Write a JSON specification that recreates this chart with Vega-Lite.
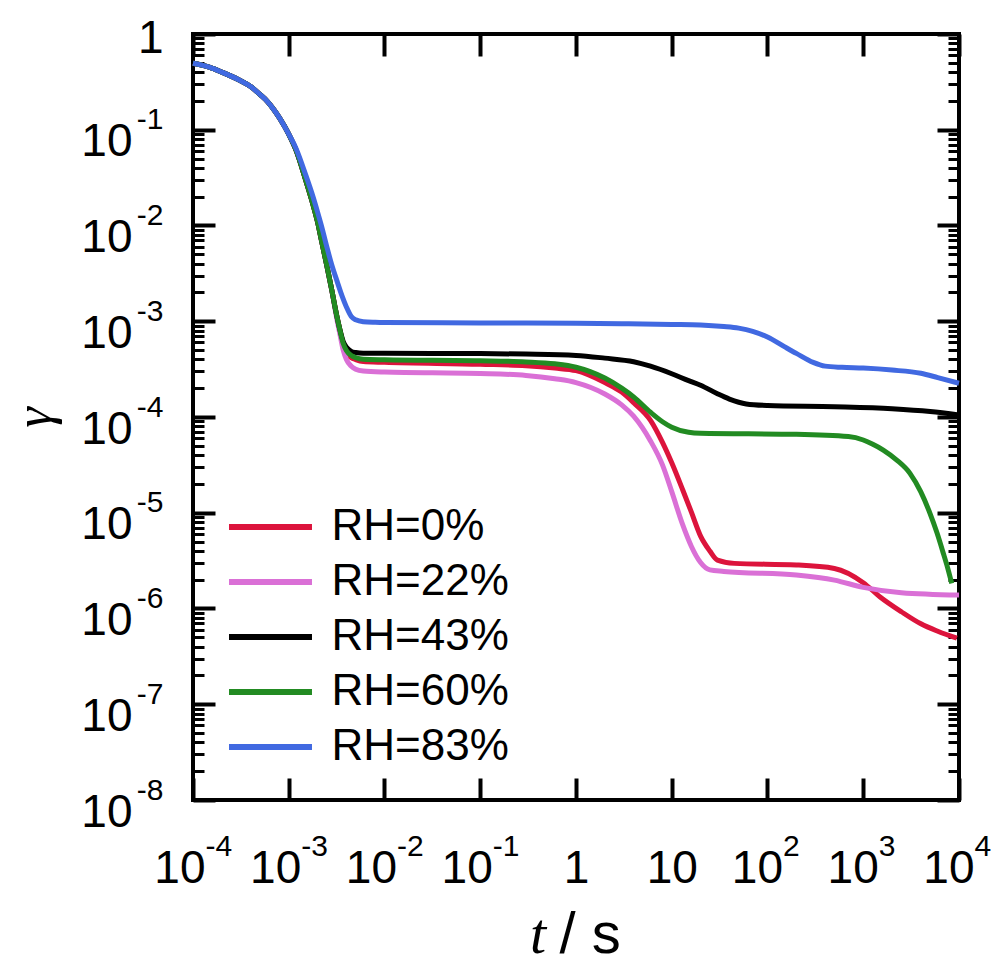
{
 "$schema": "https://vega.github.io/schema/vega-lite/v6.json",
 "width": 766, "height": 766,
 "autosize": {"type": "none"},
 "padding": {"left": 193, "top": 34, "right": 38, "bottom": 165},
 "background": "white",
 "config": {
  "view": {"stroke": "black", "strokeWidth": 4},
  "axis": {"grid": false, "domain": false, "labelFont": "Liberation Sans", "labelColor": "black", "tickColor": "black", "labelFlush": false, "labelOverlap": false, "labelBound": false, "titleColor": "black"}
 },
 "data": {"values": [
  {"rh":"RH=0%","t":0.0001,"gamma":0.494},{"rh":"RH=0%","t":0.00015,"gamma":0.448},{"rh":"RH=0%","t":0.0002,"gamma":0.4},{"rh":"RH=0%","t":0.0003,"gamma":0.333},{"rh":"RH=0%","t":0.0004,"gamma":0.283},{"rh":"RH=0%","t":0.0005,"gamma":0.234},{"rh":"RH=0%","t":0.0006,"gamma":0.197},{"rh":"RH=0%","t":0.0007,"gamma":0.162},{"rh":"RH=0%","t":0.0008,"gamma":0.133},{"rh":"RH=0%","t":0.001,"gamma":0.09},
  {"rh":"RH=0%","t":0.0012,"gamma":0.0603},{"rh":"RH=0%","t":0.0015,"gamma":0.03},{"rh":"RH=0%","t":0.0018,"gamma":0.01626},{"rh":"RH=0%","t":0.002,"gamma":0.01089},{"rh":"RH=0%","t":0.0022,"gamma":0.00692},{"rh":"RH=0%","t":0.0025,"gamma":0.0038},{"rh":"RH=0%","t":0.0028,"gamma":0.00217},
  {"rh":"RH=0%","t":0.0032,"gamma":0.001096},{"rh":"RH=0%","t":0.0034,"gamma":0.000832},{"rh":"RH=0%","t":0.0037,"gamma":0.000582},{"rh":"RH=0%","t":0.004,"gamma":0.000468},{"rh":"RH=0%","t":0.0045,"gamma":0.000417},{"rh":"RH=0%","t":0.005,"gamma":0.000398},{"rh":"RH=0%","t":0.006,"gamma":0.000379},{"rh":"RH=0%","t":0.01,"gamma":0.000372},{"rh":"RH=0%","t":0.1,"gamma":0.000355},{"rh":"RH=0%","t":0.3,"gamma":0.000343},{"rh":"RH=0%","t":0.6,"gamma":0.000324},{"rh":"RH=0%","t":1,"gamma":0.000305},{"rh":"RH=0%","t":2,"gamma":0.000229},{"rh":"RH=0%","t":3,"gamma":0.000182},{"rh":"RH=0%","t":4,"gamma":0.000141},{"rh":"RH=0%","t":6,"gamma":0.0000923},{"rh":"RH=0%","t":8,"gamma":0.0000544},{"rh":"RH=0%","t":10,"gamma":0.0000333},{"rh":"RH=0%","t":13,"gamma":0.0000174},{"rh":"RH=0%","t":16,"gamma":0.0000102},{"rh":"RH=0%","t":20,"gamma":0.0000057},{"rh":"RH=0%","t":25,"gamma":0.00000398},{"rh":"RH=0%","t":30,"gamma":0.0000032},{"rh":"RH=0%","t":45,"gamma":0.00000296},{"rh":"RH=0%","t":200,"gamma":0.00000285},{"rh":"RH=0%","t":500,"gamma":0.00000262},{"rh":"RH=0%","t":1000,"gamma":0.00000186},{"rh":"RH=0%","t":1500,"gamma":0.00000132},{"rh":"RH=0%","t":2500,"gamma":0.000000925},{"rh":"RH=0%","t":4000,"gamma":0.000000692},{"rh":"RH=0%","t":6000,"gamma":0.000000579},{"rh":"RH=0%","t":9500,"gamma":0.00000049},

  {"rh":"RH=22%","t":0.0001,"gamma":0.494},{"rh":"RH=22%","t":0.00015,"gamma":0.448},{"rh":"RH=22%","t":0.0002,"gamma":0.4},{"rh":"RH=22%","t":0.0003,"gamma":0.333},{"rh":"RH=22%","t":0.0004,"gamma":0.283},{"rh":"RH=22%","t":0.0005,"gamma":0.234},{"rh":"RH=22%","t":0.0006,"gamma":0.197},{"rh":"RH=22%","t":0.0007,"gamma":0.162},{"rh":"RH=22%","t":0.0008,"gamma":0.133},{"rh":"RH=22%","t":0.001,"gamma":0.09},
  {"rh":"RH=22%","t":0.0012,"gamma":0.0603},{"rh":"RH=22%","t":0.0015,"gamma":0.03},{"rh":"RH=22%","t":0.0018,"gamma":0.01626},{"rh":"RH=22%","t":0.002,"gamma":0.01089},{"rh":"RH=22%","t":0.0022,"gamma":0.00692},{"rh":"RH=22%","t":0.0025,"gamma":0.0038},{"rh":"RH=22%","t":0.0028,"gamma":0.00217},
  {"rh":"RH=22%","t":0.0032,"gamma":0.00102},{"rh":"RH=22%","t":0.0034,"gamma":0.000759},{"rh":"RH=22%","t":0.0037,"gamma":0.000501},{"rh":"RH=22%","t":0.004,"gamma":0.000398},{"rh":"RH=22%","t":0.0045,"gamma":0.000339},{"rh":"RH=22%","t":0.005,"gamma":0.000316},{"rh":"RH=22%","t":0.006,"gamma":0.000302},{"rh":"RH=22%","t":0.01,"gamma":0.000295},{"rh":"RH=22%","t":0.1,"gamma":0.000285},{"rh":"RH=22%","t":0.3,"gamma":0.000272},{"rh":"RH=22%","t":0.6,"gamma":0.000251},{"rh":"RH=22%","t":1,"gamma":0.000229},{"rh":"RH=22%","t":2,"gamma":0.000174},{"rh":"RH=22%","t":3,"gamma":0.000134},{"rh":"RH=22%","t":4,"gamma":0.000102},{"rh":"RH=22%","t":6,"gamma":0.0000562},{"rh":"RH=22%","t":8,"gamma":0.0000316},{"rh":"RH=22%","t":10,"gamma":0.0000166},{"rh":"RH=22%","t":13,"gamma":0.0000075},{"rh":"RH=22%","t":16,"gamma":0.00000447},{"rh":"RH=22%","t":20,"gamma":0.00000302},{"rh":"RH=22%","t":25,"gamma":0.00000253},{"rh":"RH=22%","t":35,"gamma":0.00000244},{"rh":"RH=22%","t":200,"gamma":0.00000224},{"rh":"RH=22%","t":500,"gamma":0.00000198},{"rh":"RH=22%","t":1000,"gamma":0.00000166},{"rh":"RH=22%","t":2500,"gamma":0.00000146},{"rh":"RH=22%","t":10000,"gamma":0.00000138},

  {"rh":"RH=43%","t":0.0001,"gamma":0.494},{"rh":"RH=43%","t":0.00015,"gamma":0.448},{"rh":"RH=43%","t":0.0002,"gamma":0.4},{"rh":"RH=43%","t":0.0003,"gamma":0.333},{"rh":"RH=43%","t":0.0004,"gamma":0.283},{"rh":"RH=43%","t":0.0005,"gamma":0.234},{"rh":"RH=43%","t":0.0006,"gamma":0.197},{"rh":"RH=43%","t":0.0007,"gamma":0.162},{"rh":"RH=43%","t":0.0008,"gamma":0.133},{"rh":"RH=43%","t":0.001,"gamma":0.09},
  {"rh":"RH=43%","t":0.0012,"gamma":0.0603},{"rh":"RH=43%","t":0.0015,"gamma":0.03},{"rh":"RH=43%","t":0.0018,"gamma":0.01626},{"rh":"RH=43%","t":0.002,"gamma":0.01089},{"rh":"RH=43%","t":0.0022,"gamma":0.00692},{"rh":"RH=43%","t":0.0025,"gamma":0.0038},{"rh":"RH=43%","t":0.0028,"gamma":0.00217},
  {"rh":"RH=43%","t":0.0032,"gamma":0.001096},{"rh":"RH=43%","t":0.0034,"gamma":0.000839},{"rh":"RH=43%","t":0.0037,"gamma":0.000617},{"rh":"RH=43%","t":0.004,"gamma":0.000535},{"rh":"RH=43%","t":0.0045,"gamma":0.000484},{"rh":"RH=43%","t":0.005,"gamma":0.000471},{"rh":"RH=43%","t":0.006,"gamma":0.000463},{"rh":"RH=43%","t":0.01,"gamma":0.000462},{"rh":"RH=43%","t":0.1,"gamma":0.00046},{"rh":"RH=43%","t":0.3,"gamma":0.000454},{"rh":"RH=43%","t":1,"gamma":0.00044},{"rh":"RH=43%","t":2,"gamma":0.000412},{"rh":"RH=43%","t":4,"gamma":0.000378},{"rh":"RH=43%","t":6,"gamma":0.000339},{"rh":"RH=43%","t":10,"gamma":0.000283},{"rh":"RH=43%","t":15,"gamma":0.00024},{"rh":"RH=43%","t":20,"gamma":0.000215},{"rh":"RH=43%","t":30,"gamma":0.000175},{"rh":"RH=43%","t":40,"gamma":0.000154},{"rh":"RH=43%","t":60,"gamma":0.000137},{"rh":"RH=43%","t":100,"gamma":0.000132},{"rh":"RH=43%","t":500,"gamma":0.000128},{"rh":"RH=43%","t":2000,"gamma":0.000122},{"rh":"RH=43%","t":5000,"gamma":0.000114},{"rh":"RH=43%","t":10000,"gamma":0.000105},

  {"rh":"RH=60%","t":0.0001,"gamma":0.494},{"rh":"RH=60%","t":0.00015,"gamma":0.448},{"rh":"RH=60%","t":0.0002,"gamma":0.4},{"rh":"RH=60%","t":0.0003,"gamma":0.333},{"rh":"RH=60%","t":0.0004,"gamma":0.283},{"rh":"RH=60%","t":0.0005,"gamma":0.234},{"rh":"RH=60%","t":0.0006,"gamma":0.197},{"rh":"RH=60%","t":0.0007,"gamma":0.162},{"rh":"RH=60%","t":0.0008,"gamma":0.133},{"rh":"RH=60%","t":0.001,"gamma":0.09},
  {"rh":"RH=60%","t":0.0012,"gamma":0.0603},{"rh":"RH=60%","t":0.0015,"gamma":0.03},{"rh":"RH=60%","t":0.0018,"gamma":0.01626},{"rh":"RH=60%","t":0.002,"gamma":0.01089},{"rh":"RH=60%","t":0.0022,"gamma":0.00692},{"rh":"RH=60%","t":0.0025,"gamma":0.0038},{"rh":"RH=60%","t":0.0028,"gamma":0.00217},
  {"rh":"RH=60%","t":0.0032,"gamma":0.001096},{"rh":"RH=60%","t":0.0034,"gamma":0.000832},{"rh":"RH=60%","t":0.0037,"gamma":0.000589},{"rh":"RH=60%","t":0.004,"gamma":0.000495},{"rh":"RH=60%","t":0.0045,"gamma":0.000439},{"rh":"RH=60%","t":0.005,"gamma":0.000417},{"rh":"RH=60%","t":0.006,"gamma":0.000401},{"rh":"RH=60%","t":0.01,"gamma":0.000396},{"rh":"RH=60%","t":0.1,"gamma":0.000387},{"rh":"RH=60%","t":0.3,"gamma":0.000376},{"rh":"RH=60%","t":0.6,"gamma":0.000359},{"rh":"RH=60%","t":1,"gamma":0.000331},{"rh":"RH=60%","t":2,"gamma":0.000255},{"rh":"RH=60%","t":3,"gamma":0.0002},{"rh":"RH=60%","t":4,"gamma":0.000162},{"rh":"RH=60%","t":6,"gamma":0.000112},{"rh":"RH=60%","t":8,"gamma":0.0000893},{"rh":"RH=60%","t":10,"gamma":0.0000783},{"rh":"RH=60%","t":15,"gamma":0.0000692},{"rh":"RH=60%","t":20,"gamma":0.0000675},{"rh":"RH=60%","t":200,"gamma":0.0000659},{"rh":"RH=60%","t":700,"gamma":0.0000624},{"rh":"RH=60%","t":1000,"gamma":0.0000575},{"rh":"RH=60%","t":1259,"gamma":0.0000519},{"rh":"RH=60%","t":1618,"gamma":0.0000452},{"rh":"RH=60%","t":2239,"gamma":0.0000355},{"rh":"RH=60%","t":3076,"gamma":0.0000258},{"rh":"RH=60%","t":3981,"gamma":0.0000166},{"rh":"RH=60%","t":4977,"gamma":0.00000986},{"rh":"RH=60%","t":5888,"gamma":0.00000617},{"rh":"RH=60%","t":6855,"gamma":0.00000378},{"rh":"RH=60%","t":7586,"gamma":0.00000269},{"rh":"RH=60%","t":8395,"gamma":0.00000183},

  {"rh":"RH=83%","t":0.0001,"gamma":0.494},{"rh":"RH=83%","t":0.00015,"gamma":0.448},{"rh":"RH=83%","t":0.0002,"gamma":0.4},{"rh":"RH=83%","t":0.0003,"gamma":0.333},{"rh":"RH=83%","t":0.0004,"gamma":0.283},{"rh":"RH=83%","t":0.0005,"gamma":0.234},{"rh":"RH=83%","t":0.0006,"gamma":0.197},{"rh":"RH=83%","t":0.0007,"gamma":0.162},{"rh":"RH=83%","t":0.0008,"gamma":0.133},{"rh":"RH=83%","t":0.001,"gamma":0.09},
  {"rh":"RH=83%","t":0.0012,"gamma":0.0627},{"rh":"RH=83%","t":0.0015,"gamma":0.034},{"rh":"RH=83%","t":0.0018,"gamma":0.0197},{"rh":"RH=83%","t":0.002,"gamma":0.0138},{"rh":"RH=83%","t":0.0022,"gamma":0.00986},{"rh":"RH=83%","t":0.0025,"gamma":0.00597},{"rh":"RH=83%","t":0.0028,"gamma":0.00394},{"rh":"RH=83%","t":0.0032,"gamma":0.00261},{"rh":"RH=83%","t":0.0036,"gamma":0.00184},{"rh":"RH=83%","t":0.004,"gamma":0.00141},{"rh":"RH=83%","t":0.0045,"gamma":0.00112},{"rh":"RH=83%","t":0.005,"gamma":0.001035},{"rh":"RH=83%","t":0.006,"gamma":0.000989},{"rh":"RH=83%","t":0.008,"gamma":0.000975},{"rh":"RH=83%","t":0.01,"gamma":0.00097},{"rh":"RH=83%","t":0.1,"gamma":0.000959},{"rh":"RH=83%","t":1,"gamma":0.000953},{"rh":"RH=83%","t":3,"gamma":0.000944},{"rh":"RH=83%","t":10,"gamma":0.000927},{"rh":"RH=83%","t":20,"gamma":0.000914},{"rh":"RH=83%","t":35,"gamma":0.000881},{"rh":"RH=83%","t":50,"gamma":0.000847},{"rh":"RH=83%","t":70,"gamma":0.000785},{"rh":"RH=83%","t":100,"gamma":0.000684},{"rh":"RH=83%","t":150,"gamma":0.000543},{"rh":"RH=83%","t":200,"gamma":0.000462},{"rh":"RH=83%","t":300,"gamma":0.000372},{"rh":"RH=83%","t":400,"gamma":0.00034},{"rh":"RH=83%","t":600,"gamma":0.00033},{"rh":"RH=83%","t":1000,"gamma":0.000324},{"rh":"RH=83%","t":2000,"gamma":0.000309},{"rh":"RH=83%","t":4000,"gamma":0.000286},{"rh":"RH=83%","t":6000,"gamma":0.000258},{"rh":"RH=83%","t":10000,"gamma":0.000225}
 ]},
 "resolve": {"axis": {"x": "independent", "y": "independent"}},
 "layer": [
  {
   "mark": {"type": "line", "strokeWidth": 5, "interpolate": "monotone"},
   "encoding": {
    "x": {"field": "t", "type": "quantitative", "scale": {"type": "log", "domain": [0.0001, 10000], "nice": false},
     "axis": {"orient": "bottom", "values": [0.0001, 0.001, 0.01, 0.1, 1, 10, 100, 1000, 10000], "ticks": false,
      "labelExpr": "datum.value == 1 ? '1' : '10'", "labelFontSize": 46, "labelPadding": 82, "labelBaseline": "alphabetic",
      "labelAlign": {"condition": {"test": "datum.value == 1 || datum.value == 10", "value": "center"}, "value": "right"},
      "labelOffset": {"condition": [{"test": "datum.value == 1 || datum.value == 10", "value": 0}, {"test": "datum.value < 1", "value": 12}], "value": 15},
      "title": "t", "titleFont": "Liberation Serif", "titleFontStyle": "italic", "titleFontWeight": "normal", "titleFontSize": 58,
      "titleX": 344.5, "titleY": 152, "titleAlign": "center", "titleBaseline": "alphabetic", "titleAngle": 0}},
    "y": {"field": "gamma", "type": "quantitative", "scale": {"type": "log", "domain": [1e-8, 1], "nice": false},
     "axis": {"orient": "left", "values": [1e-8, 1e-7, 1e-6, 1e-5, 0.0001, 0.001, 0.01, 0.1], "ticks": false,
      "labelExpr": "'10'", "labelFontSize": 46, "labelAlign": "right", "labelBaseline": "alphabetic",
      "labelPadding": 61, "labelOffset": 26,
      "title": "γ", "titleFont": "Liberation Serif", "titleFontStyle": "italic", "titleFontWeight": "normal", "titleFontSize": 52,
      "titleX": -159, "titleY": 383, "titleAlign": "center", "titleBaseline": "middle", "titleAngle": 270}},
    "color": {"field": "rh", "type": "nominal",
     "scale": {"domain": ["RH=0%", "RH=22%", "RH=43%", "RH=60%", "RH=83%"], "range": ["#dc143c", "#da70d6", "#000000", "#228b22", "#4169e1"]},
     "legend": {"orient": "none", "legendX": 36, "legendY": 471, "title": null, "padding": 0,
      "labelFont": "Liberation Sans", "labelFontSize": 44, "labelColor": "black", "labelLimit": 0,
      "symbolType": "M-3,0H3", "symbolSize": 765, "symbolStrokeWidth": 6, "symbolOffset": 19.5, "labelOffset": 39, "rowPadding": 11}}
   }
  },
  {
   "mark": {"type": "point", "opacity": 0},
   "encoding": {
    "x": {"field": "t", "type": "quantitative", "scale": {"type": "log", "domain": [0.0001, 10000], "nice": false},
     "axis": {"orient": "bottom", "values": [0.0001, 0.001, 0.01, 0.1, 100, 1000, 10000], "ticks": false,
      "labelExpr": "'' + round(log(datum.value) / LN10)", "labelFontSize": 30, "labelPadding": 55, "labelBaseline": "alphabetic", "labelAlign": "left",
      "labelOffset": {"condition": {"test": "datum.value < 1", "value": 12}, "value": 15},
      "title": "/ s", "titleFont": "Liberation Sans", "titleFontWeight": "normal", "titleFontSize": 58,
      "titleX": 366, "titleY": 152, "titleAlign": "left", "titleBaseline": "alphabetic", "titleAngle": 0}},
    "y": {"field": "gamma", "type": "quantitative", "scale": {"type": "log", "domain": [1e-8, 1], "nice": false},
     "axis": {"orient": "left", "values": [1e-8, 1e-7, 1e-6, 1e-5, 0.0001, 0.001, 0.01, 0.1, 1], "ticks": false,
      "labelExpr": "datum.value == 1 ? '1' : '' + round(log(datum.value) / LN10)",
      "labelFontSize": {"condition": {"test": "datum.value == 1", "value": 46}, "value": 30},
      "labelPadding": 30, "labelAlign": "right", "labelBaseline": "alphabetic",
      "labelOffset": {"condition": {"test": "datum.value == 1", "value": 18}, "value": -1},
      "title": null}}
   }
  },
  {
   "mark": {"type": "point", "opacity": 0},
   "encoding": {
    "x": {"field": "t", "type": "quantitative", "scale": {"type": "log", "domain": [0.0001, 10000], "nice": false},
     "axis": {"orient": "bottom", "values": [0.0001, 0.001, 0.01, 0.1, 1, 10, 100, 1000, 10000], "labels": false, "ticks": true, "tickSize": -22, "tickWidth": 4, "title": null}},
    "y": {"field": "gamma", "type": "quantitative", "scale": {"type": "log", "domain": [1e-8, 1], "nice": false},
     "axis": {"orient": "left", "values": [1e-8, 1e-7, 1e-6, 1e-5, 0.0001, 0.001, 0.01, 0.1, 1], "labels": false, "ticks": true, "tickSize": -22, "tickWidth": 4, "title": null}}
   }
  },
  {
   "mark": {"type": "point", "opacity": 0},
   "encoding": {
    "x": {"field": "t", "type": "quantitative", "scale": {"type": "log", "domain": [0.0001, 10000], "nice": false},
     "axis": {"orient": "top", "values": [0.0001, 0.001, 0.01, 0.1, 1, 10, 100, 1000, 10000], "labels": false, "ticks": true, "tickSize": -22, "tickWidth": 4, "title": null}},
    "y": {"field": "gamma", "type": "quantitative", "scale": {"type": "log", "domain": [1e-8, 1], "nice": false},
     "axis": {"orient": "right", "values": [1e-8, 1e-7, 1e-6, 1e-5, 0.0001, 0.001, 0.01, 0.1, 1], "labels": false, "ticks": true, "tickSize": -22, "tickWidth": 4, "title": null}}
   }
  },
  {
   "mark": {"type": "point", "opacity": 0},
   "encoding": {
    "x": {"field": "t", "type": "quantitative", "scale": {"type": "log", "domain": [0.0001, 10000], "nice": false}, "axis": null},
    "y": {"field": "gamma", "type": "quantitative", "scale": {"type": "log", "domain": [1e-8, 1], "nice": false},
     "axis": {"orient": "left", "values": [2e-8, 3e-8, 4e-8, 5e-8, 6e-8, 7e-8, 8e-8, 9e-8, 2e-7, 3e-7, 4e-7, 5e-7, 6e-7, 7e-7, 8e-7, 9e-7, 2e-6, 3e-6, 4e-6, 5e-6, 6e-6, 7e-6, 8e-6, 9e-6, 2e-5, 3e-5, 4e-5, 5e-5, 6e-5, 7e-5, 8e-5, 9e-5, 0.0002, 0.0003, 0.0004, 0.0005, 0.0006, 0.0007, 0.0008, 0.0009, 0.002, 0.003, 0.004, 0.005, 0.006, 0.007, 0.008, 0.009, 0.02, 0.03, 0.04, 0.05, 0.06, 0.07, 0.08, 0.09, 0.2, 0.3, 0.4, 0.5, 0.6, 0.7, 0.8, 0.9], "labels": false, "ticks": true, "tickSize": -11, "tickWidth": 3, "title": null}}
   }
  },
  {
   "mark": {"type": "point", "opacity": 0},
   "encoding": {
    "x": {"field": "t", "type": "quantitative", "scale": {"type": "log", "domain": [0.0001, 10000], "nice": false}, "axis": null},
    "y": {"field": "gamma", "type": "quantitative", "scale": {"type": "log", "domain": [1e-8, 1], "nice": false},
     "axis": {"orient": "right", "values": [2e-8, 3e-8, 4e-8, 5e-8, 6e-8, 7e-8, 8e-8, 9e-8, 2e-7, 3e-7, 4e-7, 5e-7, 6e-7, 7e-7, 8e-7, 9e-7, 2e-6, 3e-6, 4e-6, 5e-6, 6e-6, 7e-6, 8e-6, 9e-6, 2e-5, 3e-5, 4e-5, 5e-5, 6e-5, 7e-5, 8e-5, 9e-5, 0.0002, 0.0003, 0.0004, 0.0005, 0.0006, 0.0007, 0.0008, 0.0009, 0.002, 0.003, 0.004, 0.005, 0.006, 0.007, 0.008, 0.009, 0.02, 0.03, 0.04, 0.05, 0.06, 0.07, 0.08, 0.09, 0.2, 0.3, 0.4, 0.5, 0.6, 0.7, 0.8, 0.9], "labels": false, "ticks": true, "tickSize": -11, "tickWidth": 3, "title": null}}
   }
  }
 ]
}
